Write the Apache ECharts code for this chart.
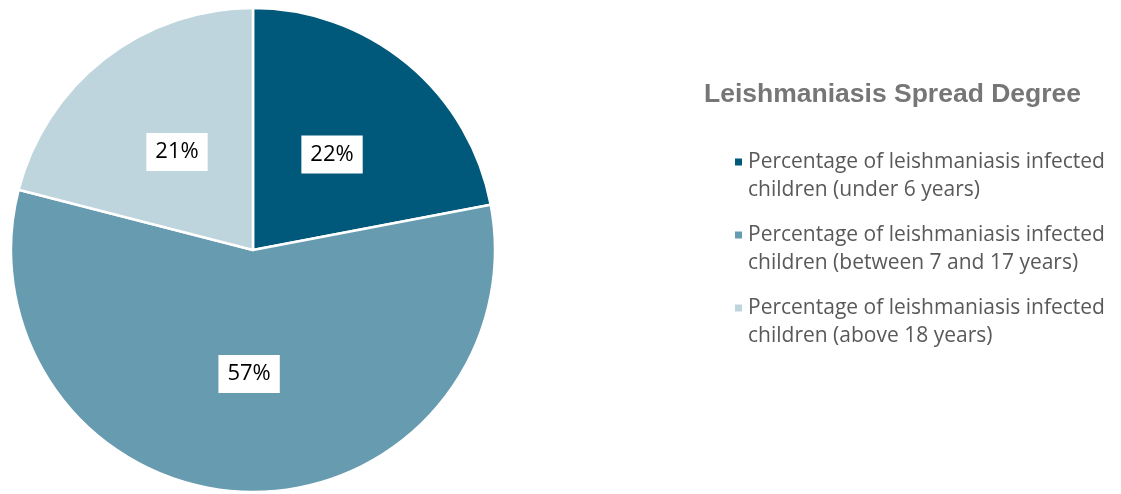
<!DOCTYPE html>
<html>
<head>
<meta charset="utf-8">
<script src="https://cdn.jsdelivr.net/npm/echarts@6/dist/echarts.min.js"></script>
<style>
  html, body { margin: 0; padding: 0; background: #ffffff; }
  #chart { width: 1121px; height: 494px; }
</style>
</head>
<body>
<div id="chart"></div>
<script>
// Age groups of infected children and their shares (%)
const categories = [
  'Percentage of leishmaniasis infected\nchildren (under 6 years)',
  'Percentage of leishmaniasis infected\nchildren (between 7 and 17 years)',
  'Percentage of leishmaniasis infected\nchildren (above 18 years)'
];
const shares = [22, 57, 21];
const sliceColors = ['#00587a', '#679bb0', '#bfd5de'];
const chartTitle = 'Leishmaniasis Spread Degree';

const chart = echarts.init(document.getElementById('chart'));

chart.setOption({
  animation: false,
  color: sliceColors,
  title: {
    text: chartTitle,
    left: 699,
    top: 76,
    textStyle: {
      fontFamily: 'Liberation Sans',
      fontWeight: 'bold',
      fontSize: 26.5,
      color: '#767676'
    }
  },
  legend: {
    orient: 'vertical',
    left: 733,
    top: 120,
    padding: 0,
    itemWidth: 9,
    itemHeight: 9,
    itemGap: -11,
    icon: 'rect',
    // a leading blank line keeps the marker level with the first text line
    formatter: name => '\n' + name,
    textStyle: {
      fontFamily: 'Open Sans',
      fontSize: 21,
      lineHeight: 28,
      color: '#595959'
    },
    data: categories
  },
  series: [{
    type: 'pie',
    center: [253, 250],
    radius: 242,
    startAngle: 90,
    clockwise: true,
    itemStyle: { borderColor: '#ffffff', borderWidth: 2.5 },
    label: {
      show: true,
      position: 'inside',
      formatter: '{c}%',
      fontFamily: 'Open Sans',
      fontSize: 22,
      lineHeight: 22,
      color: '#000000',
      backgroundColor: '#ffffff',
      padding: [8, 9, 8, 9]
    },
    labelLine: { show: false },
    emphasis: { disabled: true },
    data: categories.map((name, i) => ({ name, value: shares[i] }))
  }]
});
</script>
</body>
</html>
